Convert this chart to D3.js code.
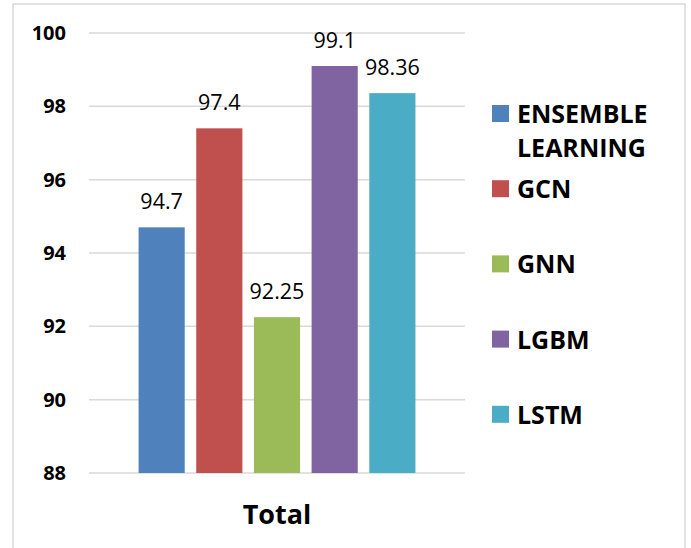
<!DOCTYPE html>
<html>
<head>
<meta charset="utf-8">
<script src="https://cdn.jsdelivr.net/npm/d3@7/dist/d3.min.js"></script>
<style>
  body { margin: 0; background: #fff; }
  svg { display: block; font-family: "Open Sans", sans-serif; }
</style>
</head>
<body>
<svg width="691" height="548"></svg>
<script>
// data
const models = ["ENSEMBLE LEARNING", "GCN", "GNN", "LGBM", "LSTM"];
const values = [94.7, 97.4, 92.25, 99.1, 98.36];
const labels = ["94.7", "97.4", "92.25", "99.1", "98.36"];
const colors = ["#4f81bd", "#c0504d", "#9bbb59", "#8064a2", "#4bacc6"];
const yTicks = [88, 90, 92, 94, 96, 98, 100];
const category = "Total";

const svg = d3.select("svg");

// outer frame
svg.append("rect")
  .attr("x", 13).attr("y", 4)
  .attr("width", 672).attr("height", 560)
  .attr("fill", "none")
  .attr("stroke", "#d9d9d9")
  .attr("stroke-width", 1.5);

const plot = { left: 89, right: 465, top: 33, bottom: 473 };

const y = d3.scaleLinear().domain([88, 100]).range([plot.bottom, plot.top]);
const x0 = d3.scaleBand().domain([category]).range([plot.left, plot.right]).paddingInner(0).paddingOuter(0.179);
const x1 = d3.scaleBand().domain(models).range([0, x0.bandwidth()]).paddingInner(0.2).paddingOuter(0);

// gridlines
svg.append("g")
  .selectAll("line")
  .data(yTicks)
  .enter().append("line")
  .attr("x1", plot.left).attr("x2", plot.right)
  .attr("y1", d => y(d)).attr("y2", d => y(d))
  .attr("stroke", "#d9d9d9")
  .attr("stroke-width", 1.5);

// y axis labels
const yAxis = svg.append("g")
  .attr("transform", `translate(${plot.left - 23},0)`)
  .call(d3.axisLeft(y).tickValues(yTicks).tickSize(0).tickPadding(0));
yAxis.select(".domain").remove();
yAxis.selectAll("text")
  .attr("font-family", "Open Sans")
  .attr("font-size", 20)
  .attr("font-weight", "bold")
  .attr("fill", "#000");

// bars
const bars = svg.append("g")
  .attr("transform", `translate(${x0(category)},0)`);

bars.selectAll("rect")
  .data(values)
  .enter().append("rect")
  .attr("x", (d, i) => x1(models[i]))
  .attr("y", d => y(d))
  .attr("width", x1.bandwidth())
  .attr("height", d => y(88) - y(d))
  .attr("fill", (d, i) => colors[i]);

// data labels
bars.selectAll("text")
  .data(values)
  .enter().append("text")
  .attr("x", (d, i) => x1(models[i]) + x1.bandwidth() / 2)
  .attr("y", d => y(d) - 18)
  .attr("text-anchor", "middle")
  .attr("font-size", 21.5)
  .attr("fill", "#000")
  .text((d, i) => labels[i]);

// category label
svg.append("text")
  .attr("x", x0(category) + x0.bandwidth() / 2)
  .attr("y", 524)
  .attr("text-anchor", "middle")
  .attr("font-size", 27)
  .attr("font-weight", "bold")
  .text(category);

// legend
const legend = svg.append("g").attr("transform", "translate(492,123)");
const item = legend.selectAll("g")
  .data(models)
  .enter().append("g")
  .attr("transform", (d, i) => `translate(0,${i * 75.2})`);

item.append("rect")
  .attr("x", 0).attr("y", -18)
  .attr("width", 17).attr("height", 17)
  .attr("fill", (d, i) => colors[i]);

item.append("text")
  .attr("x", 25)
  .attr("font-size", 25)
  .attr("font-weight", "bold")
  .each(function (d) {
    const words = d.split(" ");
    d3.select(this).selectAll("tspan")
      .data(words)
      .enter().append("tspan")
      .attr("x", 25)
      .attr("dy", (w, j) => j === 0 ? 0 : 34)
      .text(w => w);
  });
</script>
</body>
</html>
